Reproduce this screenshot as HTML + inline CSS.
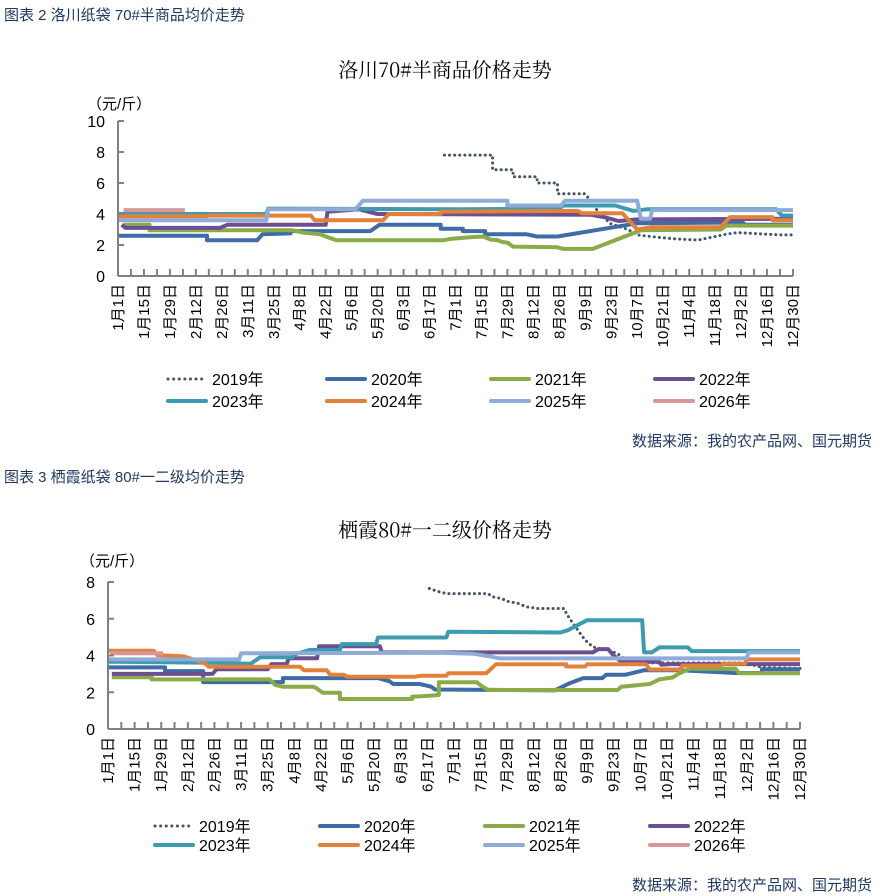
<!DOCTYPE html>
<html><head><meta charset="utf-8">
<style>
html,body{margin:0;padding:0;background:#fff;}
svg{display:block;font-family:"Liberation Sans","Noto Sans CJK SC",sans-serif;}
</style></head>
<body>
<svg id="root" width="887" height="896" viewBox="0 0 887 896" xmlns="http://www.w3.org/2000/svg">
  <text x="4" y="20" font-size="15" fill="#1f3864">图表 2  洛川纸袋 70#半商品均价走势</text>
  <text x="445" y="77" font-size="20" text-anchor="middle" fill="#000" font-family="'Noto Serif CJK SC','Liberation Serif',serif">洛川70#半商品价格走势</text>
  <text x="87" y="109" font-size="15" fill="#000">（元/斤）</text>
  <g id="c1"></g>
  <text x="872" y="446" font-size="15" text-anchor="end" fill="#1f3864">数据来源：我的农产品网、国元期货</text>

  <text x="4" y="482" font-size="15" fill="#1f3864">图表 3  栖霞纸袋 80#一二级均价走势</text>
  <text x="445" y="537" font-size="20" text-anchor="middle" fill="#000" font-family="'Noto Serif CJK SC','Liberation Serif',serif">栖霞80#一二级价格走势</text>
  <text x="80" y="566" font-size="15" fill="#000">（元/斤）</text>
  <g id="c2"></g>
  <text x="872" y="890" font-size="15" text-anchor="end" fill="#1f3864">数据来源：我的农产品网、国元期货</text>
</svg>
<script>
const tickLabels = ["1月1日","1月15日","1月29日","2月12日","2月26日","3月11日","3月25日","4月8日","4月22日","5月6日","5月20日","6月3日","6月17日","7月1日","7月15日","7月29日","8月12日","8月26日","9月9日","9月23日","10月7日","10月21日","11月4日","11月18日","12月2日","12月16日","12月30日"];
const seriesNames = ["2019年","2020年","2021年","2022年","2023年","2024年","2025年","2026年"];
const c1YTicks = [0,2,4,6,8,10];
const c2YTicks = [0,2,4,6,8];

// Chart 1 (洛川) — days since Jan 1 and values
const c1d2019 = [176,202,202,213,213,226,226,237,237,252,258,263,265,275,280,291,300,313,328,334,357,363];
const c1v2019 = [7.8,7.8,6.85,6.85,6.4,6.4,6.0,6.0,5.3,5.3,4.3,3.7,3.4,3.0,2.65,2.5,2.4,2.32,2.7,2.8,2.65,2.65];
const c1d2020 = [0,48,48,75,78,93,93,136,141,174,174,186,186,198,198,220,226,237,280,337,338,364];
const c1v2020 = [2.6,2.6,2.3,2.3,2.7,2.75,2.9,2.9,3.3,3.3,3.05,3.05,2.9,2.9,2.7,2.7,2.55,2.55,3.4,3.45,3.3,3.3];
const c1d2021 = [3,17,17,94,100,109,112,118,175,180,190,197,201,205,207,210,213,237,240,256,282,325,328,364];
const c1v2021 = [3.3,3.3,2.95,2.95,2.8,2.7,2.55,2.3,2.3,2.4,2.5,2.55,2.35,2.3,2.2,2.15,1.9,1.85,1.75,1.75,2.95,3.0,3.25,3.25];
const c1d2022 = [2,4,55,59,112,113,130,140,255,262,270,280,364];
const c1v2022 = [3.3,3.1,3.1,3.3,3.3,4.15,4.3,4.0,3.95,3.8,3.55,3.65,3.7];
const c1d2023 = [0,80,81,185,238,240,268,278,285,355,358,364];
const c1v2023 = [4.0,4.0,4.35,4.3,4.35,4.55,4.55,4.2,4.3,4.3,3.9,3.9];
const c1d2024 = [0,48,48,104,106,143,146,174,174,248,250,272,280,288,325,330,353,353,364];
const c1v2024 = [3.85,3.85,3.9,3.9,3.6,3.6,4.0,4.0,4.15,4.2,4.05,4.05,3.0,3.15,3.15,3.8,3.8,3.6,3.6];
const c1d2025 = [0,80,81,128,132,210,210,239,241,280,282,287,288,364];
const c1v2025 = [3.6,3.6,4.3,4.3,4.85,4.85,4.55,4.55,4.85,4.85,3.7,3.7,4.25,4.25];
const c1d2026 = [3,36];
const c1v2026 = [4.25,4.25];

// Chart 2 (栖霞)
const c2d2019 = [169,173,178,200,202,207,210,216,220,226,240,241,244,248,251,255,263,268,272,285,335,344,364];
const c2v2019 = [7.65,7.5,7.37,7.37,7.2,7.1,6.95,6.83,6.65,6.56,6.56,6.3,5.83,5.25,4.84,4.47,4.3,4.1,3.8,3.6,3.6,3.35,3.3];
const c2d2020 = [0,30,30,50,50,92,92,142,148,150,164,170,172,235,243,250,260,262,272,282,301,330,344,344,364];
const c2v2020 = [3.35,3.35,3.15,3.15,2.55,2.55,2.77,2.77,2.6,2.45,2.45,2.3,2.15,2.1,2.5,2.77,2.77,2.95,2.95,3.2,3.2,3.05,3.05,3.25,3.25];
const c2d2021 = [2,23,23,85,88,92,108,110,113,122,122,160,160,168,174,174,194,197,200,268,270,285,290,297,300,306,330,332,364];
const c2v2021 = [2.82,2.82,2.7,2.7,2.4,2.3,2.3,2.2,1.97,1.97,1.63,1.63,1.75,1.8,1.85,2.54,2.54,2.3,2.12,2.12,2.3,2.45,2.7,2.8,3.0,3.28,3.28,3.03,3.03];
const c2d2022 = [2,55,57,84,86,94,95,110,111,143,144,255,258,263,266,270,290,291,296,364];
const c2v2022 = [3.0,3.0,3.25,3.25,3.53,3.53,3.85,3.85,4.5,4.5,4.17,4.17,4.35,4.35,4.0,3.66,3.66,3.5,3.53,3.53];
const c2d2023 = [0,60,75,80,97,98,106,122,123,141,142,178,179,238,242,246,252,281,282,286,290,305,307,364];
const c2v2023 = [3.66,3.6,3.55,3.9,3.9,4.05,4.3,4.3,4.62,4.62,4.98,4.98,5.29,5.25,5.38,5.6,5.92,5.92,4.17,4.17,4.44,4.44,4.24,4.24];
const c2d2024 = [0,24,26,40,51,53,101,103,115,117,124,126,161,165,178,179,199,204,241,241,251,252,283,285,301,302,322,324,335,336,364];
const c2v2024 = [4.26,4.26,4.02,3.95,3.57,3.39,3.39,3.2,3.2,2.95,2.95,2.84,2.84,2.9,2.9,3.03,3.03,3.52,3.52,3.4,3.4,3.52,3.52,3.24,3.24,3.45,3.45,3.55,3.55,3.79,3.79];
const c2d2025 = [0,69,70,175,192,200,206,336,337,364];
const c2v2025 = [3.79,3.79,4.12,4.15,4.1,3.97,3.84,3.84,4.17,4.17];
const c2d2026 = [1,29];
const c2v2026 = [4.12,4.12];

const colors = ["#44546a","#3f6ba6","#8aab48","#6c4f92","#3c9bb0","#e2823a","#8fabd8","#d99694"];
const NS = "http://www.w3.org/2000/svg";
function mk(parent, tag, attrs){ const e=document.createElementNS(NS,tag); for(const k in attrs) e.setAttribute(k,attrs[k]); parent.appendChild(e); return e; }

function drawChart(gid, cfg, days, vals, prefix){
  const g = document.getElementById(gid);
  const xs = d => cfg.x0 + d*(cfg.x1-cfg.x0)/364;
  const ys = v => cfg.y0 - v*(cfg.y0-cfg.yTop)/cfg.yMax;
  for(let s=0;s<days.length;s++){
    const pts = days[s].map((d,i)=>xs(d).toFixed(1)+","+ys(vals[s][i]).toFixed(1)).join(" ");
    const pl = mk(g,"polyline",{points:pts,fill:"none",stroke:colors[s],"stroke-width":s===0?3:4,"stroke-linejoin":"round","stroke-linecap":s===0?"round":"butt"});
    if(s===0) pl.setAttribute("stroke-dasharray","0.1 5");
    
    
  }
  const ya = mk(g,"line",{x1:cfg.x0,y1:cfg.yTop,x2:cfg.x0,y2:cfg.y0,stroke:"#808080","stroke-width":2});
  
  
  const xa = mk(g,"line",{x1:cfg.x0,y1:cfg.y0,x2:cfg.x1,y2:cfg.y0,stroke:"#808080","stroke-width":2});
  
  
  cfg.yTicks.forEach(v=>{
    const y=ys(v);
    mk(g,"line",{x1:cfg.x0,y1:y,x2:cfg.x0+6,y2:y,stroke:"#808080","stroke-width":2});
    const t=mk(g,"text",{x:cfg.x0-13,y:y+6,"font-size":16,"text-anchor":"end",fill:"#000"});
    t.textContent=v;
    
    
  });
  for(let d=7; d<=364; d+=7){
    const x=xs(d);
    mk(g,"line",{x1:x,y1:cfg.y0-7,x2:x,y2:cfg.y0,stroke:"#808080","stroke-width":2});
  }
  tickLabels.forEach((lab,i)=>{
    const x=xs(i*14);
    const t=mk(g,"text",{x:0,y:0,"font-size":15,"text-anchor":"end",fill:"#000",transform:`translate(${x+5},${cfg.y0+8}) rotate(-90)`});
    t.textContent=lab;
    
    
  });
  seriesNames.forEach((n,s)=>{
    const col=s%4, row=Math.floor(s/4);
    const lx=cfg.legX[col], ly=cfg.legY[row];
    const leg=mk(g,"g",{});
    
    
    const l=mk(leg,"line",{x1:lx,y1:ly,x2:lx+38,y2:ly,stroke:colors[s],"stroke-width":s===0?3:4,"stroke-linecap":"round"});
    if(s===0) l.setAttribute("stroke-dasharray","0.1 5.5");
    const t=mk(leg,"text",{x:lx+44,y:ly+6,"font-size":16,fill:"#000"});
    t.textContent=n;
  });
}
drawChart("c1",{x0:118,x1:793,y0:276,yTop:121,yMax:10,yTicks:c1YTicks,legX:[168,327,491,655],legY:[379,401]},
  [c1d2019,c1d2020,c1d2021,c1d2022,c1d2023,c1d2024,c1d2025,c1d2026],
  [c1v2019,c1v2020,c1v2021,c1v2022,c1v2023,c1v2024,c1v2025,c1v2026],"chart1");
drawChart("c2",{x0:108,x1:800,y0:729,yTop:582,yMax:8,yTicks:c2YTicks,legX:[155,320,485,650],legY:[826,845]},
  [c2d2019,c2d2020,c2d2021,c2d2022,c2d2023,c2d2024,c2d2025,c2d2026],
  [c2v2019,c2v2020,c2v2021,c2v2022,c2v2023,c2v2024,c2v2025,c2v2026],"chart2");
</script>
</body></html>
